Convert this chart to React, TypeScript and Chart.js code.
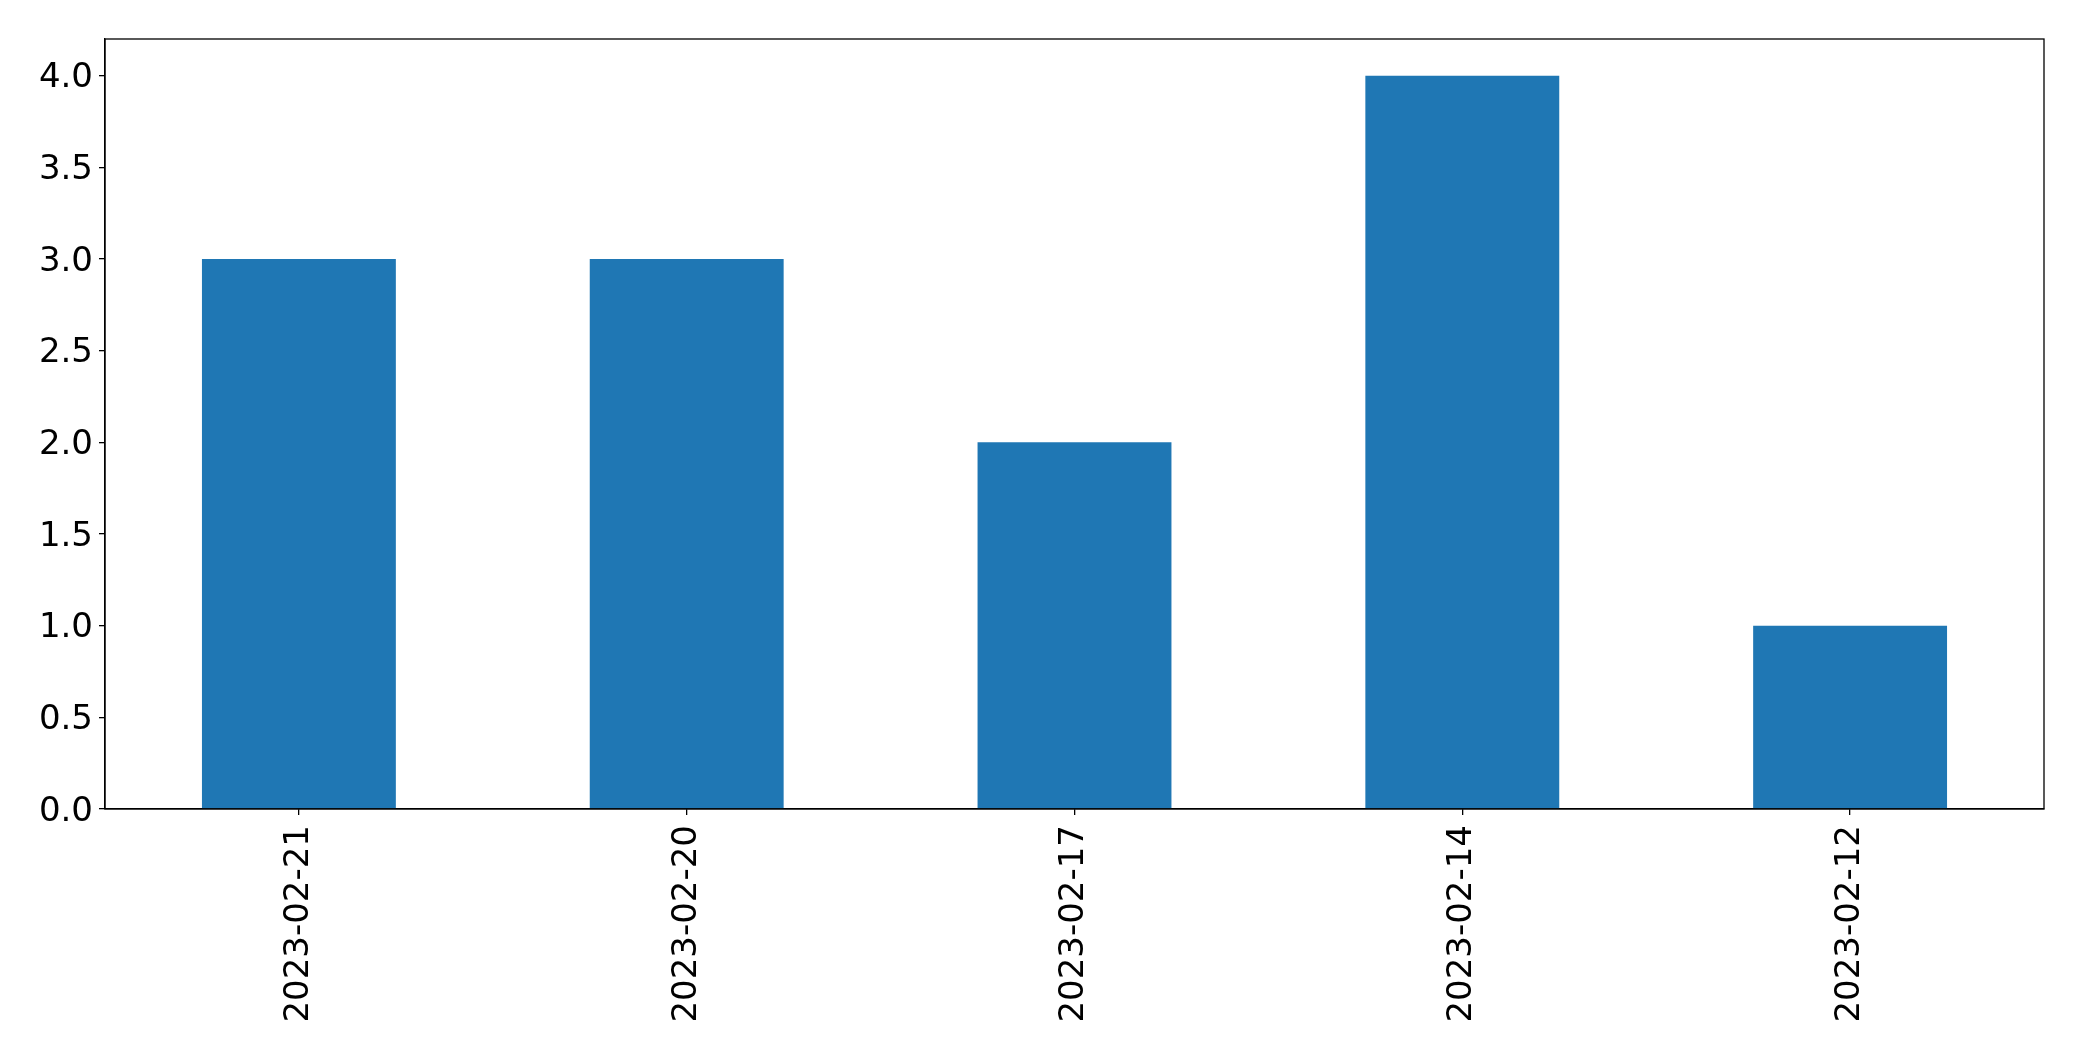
import React, { useEffect, useRef } from "react";
import { Chart, registerables } from "chart.js";

Chart.register(...registerables);

const categories = ["2023-02-21", "2023-02-20", "2023-02-17", "2023-02-14", "2023-02-12"];
const counts = [3, 3, 2, 4, 1];
const yMin = 0;
const yMax = 4.2;
const yStep = 0.5;

const FONT = "'DejaVu Sans', sans-serif";

const boxPlugin = {
  id: "boxPlugin",
  afterDraw(chart: any) {
    const { ctx, chartArea } = chart;
    ctx.save();
    ctx.strokeStyle = "#000";
    ctx.lineWidth = 1.3;
    ctx.strokeRect(chartArea.left, chartArea.top, chartArea.right - chartArea.left, chartArea.bottom - chartArea.top);
    ctx.restore();
  },
};

export default function App() {
  const ref = useRef<HTMLCanvasElement | null>(null);
  useEffect(() => {
    if (!ref.current) return;
    const chart = new Chart(ref.current, {
      type: "bar",
      data: {
        labels: categories,
        datasets: [
          {
            data: counts,
            backgroundColor: "#1f77b4",
            borderWidth: 0,
            categoryPercentage: 1,
            barPercentage: 0.5,
          },
        ],
      },
      plugins: [boxPlugin],
      options: {
        animation: false,
        responsive: false,
        maintainAspectRatio: false,
        layout: { padding: { left: 0, right: 38, top: 39, bottom: 0 } },
        plugins: { legend: { display: false }, tooltip: { enabled: false } },
        scales: {
          x: {
            offset: true,
            grid: { display: true, offset: false, drawOnChartArea: false, drawTicks: true, tickLength: 6, color: "#000", lineWidth: 1.3 },
            border: { display: true, color: "#000", width: 1.3 },
            ticks: {
              color: "#000",
              font: { family: FONT, size: 34 },
              minRotation: 90,
              maxRotation: 90,
              padding: 10,
              autoSkip: false,
            },
            afterFit: (scale: any) => {
              scale.height = 252;
            },
          },
          y: {
            min: yMin,
            max: yMax,
            grid: { display: true, drawOnChartArea: false, drawTicks: true, tickLength: 6, color: "#000", lineWidth: 1.3 },
            border: { display: true, color: "#000", width: 1.3 },
            ticks: {
              stepSize: yStep,
              includeBounds: false,
              color: "#000",
              font: { family: FONT, size: 34 },
              padding: 6,
              labelOffset: 3,
              callback: (v: any) => Number(v).toFixed(1),
            },
            afterFit: (scale: any) => {
              scale.width = 105;
            },
          },
        },
      },
    });
    return () => chart.destroy();
  }, []);
  return (
    <div style={{ position: "fixed", left: 0, top: 0, width: 2082, height: 1061, background: "#fff" }}>
      <canvas ref={ref} width={2082} height={1061} style={{ width: 2082, height: 1061 }} />
    </div>
  );
}
